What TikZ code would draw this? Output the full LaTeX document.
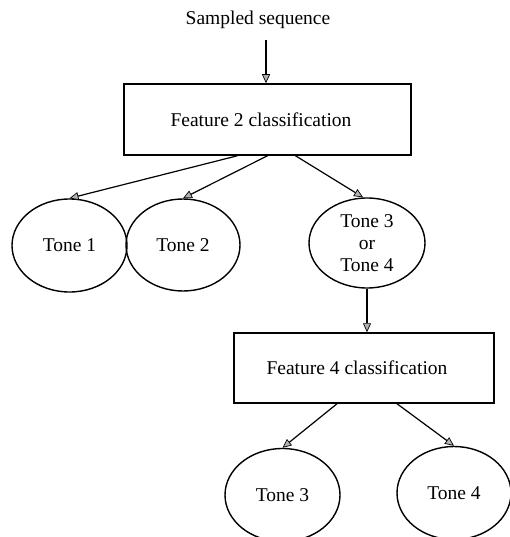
\documentclass[tikz,border=0pt]{standalone}
\usepackage{fontspec}
\setmainfont{Liberation Serif}
\usetikzlibrary{shapes.geometric,arrows.meta,calc}
\begin{document}
\begin{tikzpicture}[x=1pt,y=-1pt,
  every node/.style={font=\fontsize{19.5}{22}\selectfont},
  box/.style={draw,line width=1.5pt,rectangle,inner sep=0pt},
  tone/.style={draw,line width=1.4pt,ellipse,inner sep=0pt,align=center},
  arr/.style={line width=1.2pt,-{Triangle[length=9pt,width=8pt,fill=gray!60,line width=0.7pt]}}]
\clip (0,0) rectangle (510,537);
\useasboundingbox (0,0) rectangle (510,537);
\node[inner sep=0pt] (src) at (258,20) {Sampled sequence};
\node[box,minimum width=287pt,minimum height=71pt] (f2) at (267.5,119.5) {};
\node at (261,120) {Feature 2 classification};
\node[tone,minimum width=115pt,minimum height=93pt] (t1) at (69.5,245.5) {Tone 1};
\node[tone,minimum width=114pt,minimum height=92pt] (t2) at (183,245) {Tone 2};
\node[tone,minimum width=116pt,minimum height=90pt] (t34) at (367,243) {Tone 3\\[0pt]or\\[0pt]Tone 4};
\node[box,minimum width=260pt,minimum height=70pt] (f4) at (364,368) {};
\node at (357,368) {Feature 4 classification};
\node[tone,minimum width=115pt,minimum height=93pt] (t3) at (282.5,495) {Tone 3};
\node[tone,minimum width=114pt,minimum height=93pt] (t4) at (454,493) {Tone 4};
\coordinate (s0) at (266,40);
\draw[arr] (s0) -- (s0 |- f2.north);
\draw[arr] ($(f2.south)+(-30,0)$) -- (t1.north);
\draw[arr] ($(f2.south)+(0,0)$) -- (t2.north);
\draw[arr] ($(f2.south)+(28,0)$) -- ($(t34.north)+(-4,0)$);
\draw[arr] (t34.south) -- (t34.south |- f4.north);
\draw[arr] ($(f4.south)+(-27,0)$) -- (t3.north);
\draw[arr] ($(f4.south)+(33,0)$) -- (t4.north);
\end{tikzpicture}
\end{document}
